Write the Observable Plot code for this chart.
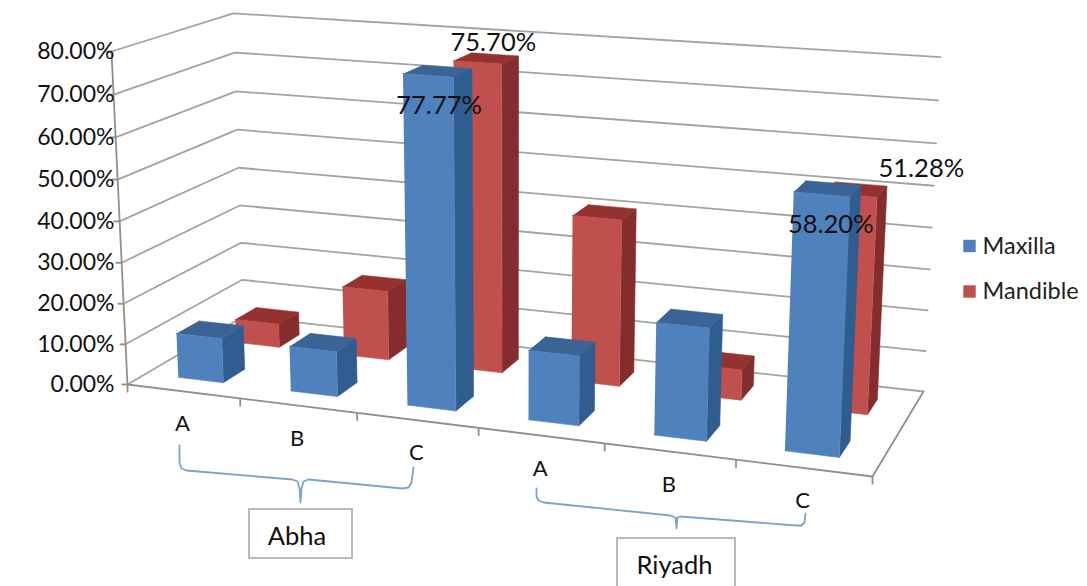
<!DOCTYPE html>
<html>
<head>
<meta charset="utf-8">
<script src="https://cdn.jsdelivr.net/npm/d3@7"></script>
<script src="https://cdn.jsdelivr.net/npm/@observablehq/plot@0.6"></script>
<style>
html,body{margin:0;padding:0;background:#fff;overflow:hidden}
svg{display:block}
</style>
</head>
<body>
<div id="chart" style="position:relative;width:1087px;height:586px"></div>
<script>
// ---- data ----
const categories = ["A", "B", "C", "A", "B", "C"];
const maxilla  = [11, 11, 77.77, 16.5, 26.2, 58.20];
const mandible = [6, 17.5, 75.70, 40.8, 7.4, 51.28];
const valueTicks = [0, 10, 20, 30, 40, 50, 60, 70, 80];
const maxValue = 80;

// ---- 3D camera: floor corners of the plot box on the page, and the top of its left and right walls ----
const floorQuad = [[127,384],[872,476],[923,391],[243,316]]; // FL FR BR BL
const topFrontLeft = [111,51], topBackRightX = 940;
function camera(q){
  const [[x0,y0],[x1,y1],[x2,y2],[x3,y3]] = q;
  const dx1=x1-x2, dx2=x3-x2, sx=x0-x1+x2-x3;
  const dy1=y1-y2, dy2=y3-y2, sy=y0-y1+y2-y3;
  const den=dx1*dy2-dx2*dy1;
  const g=(sx*dy2-dx2*sy)/den, h=(dx1*sy-sx*dy1)/den;
  const a=x1-x0+g*x1, b=x3-x0+h*x3, c=x0;
  const d=y1-y0+g*y1, e=y3-y0+h*y3, f=y0;
  const D=g+h+1;
  const k=(x2*D-x0+topFrontLeft[0]-topBackRightX*D)/(topBackRightX-topFrontLeft[0]);
  const mx=topFrontLeft[0]*(1+k)-x0, my=topFrontLeft[1]*(1+k)-y0;
  return (u,v,w)=>{const z=g*u+h*v+1+k*w; return {x:(a*u+b*v+c+mx*w)/z,y:(d*u+e*v+f+my*w)/z};};
}
const cam=camera(floorQuad);
// u: category position (0..6), v: depth (0..1), val: percent
const project=(u,v,val)=>cam(u/categories.length,v,val/maxValue);

// ---- bar geometry ----
const barSpan=[0.29,0.695];
const rows=[
  {name:"Mandible",values:mandible,depth:[0.65,0.84],front:"#c0504d",side:"#852d2c",top:"#94322f"},
  {name:"Maxilla", values:maxilla, depth:[0.15,0.335],front:"#4f81bd",side:"#2f5d90",top:"#3b6496"}
];
const faces=[];
function face(id,color,corners){corners.forEach(c=>faces.push({id,color,...project(...c)}));}
rows.forEach(r=>r.values.forEach((val,i)=>{
  const u0=i+barSpan[0],u1=i+barSpan[1],[v0,v1]=r.depth,id=r.name+i;
  face(id+"side",r.side,[[u1,v0,0],[u1,v1,0],[u1,v1,val],[u1,v0,val]]);
  face(id+"top",r.top,[[u0,v0,val],[u1,v0,val],[u1,v1,val],[u0,v1,val]]);
  face(id+"front",r.front,[[u0,v0,0],[u1,v0,0],[u1,v0,val],[u0,v0,val]]);
}));

// ---- walls, floor, axis ----
const n=categories.length;
const grid=valueTicks.flatMap(t=>[
  {t,...project(0,0,t)},{t,...project(0,1,t)},{t,...project(n,1,t)}
]);
const floorEdges=[
  {e:"front",...project(0,0,0)},{e:"front",...project(n,0,0)},
  {e:"front",...project(n,1,0)}
];
const vAxis=[project(0,0,0),project(0,0,maxValue)];
const vTicks=valueTicks.map(t=>project(0,0,t));
const xTicks=d3.range(0,n+1).map(u=>project(u,0,0));

// ---- annotations ----
const tickLabels=valueTicks.map(t=>({label:t.toFixed(2)+"%",y:project(0,0,t).y}));
const catLabels=categories.map((c,i)=>{const p=project(i+.5,0,0);return {c,x:p.x-1,y:p.y+33};});
const labelShift={Maxilla:[[10,30],[8,30]],Mandible:[[15,-20],[70,-26]]};
const dataLabels=rows.flatMap(r=>[2,5].map((i,k)=>{
  const p=project(i+.5,r.depth[0],r.values[i]);
  return {text:r.values[i].toFixed(2)+"%",x:p.x+labelShift[r.name][k][0],y:p.y+labelShift[r.name][k][1]};
}));
const legendItems=[{name:"Maxilla",color:"#4f81bd",y:245.5},{name:"Mandible",color:"#c0504d",y:291}];
const braces=[
  [[179,445],[179,462],[181,468],[186,470],[292,479],[297,481],[299,488],[300,502],[301,488],[303,481],[308,479],[402,488],[408,487],[411,482],[413,467]],
  [[536,488],[536,496],[538,500],[543,502],[670,515],[675,517],[676,528],[677,517],[680,516],[796,525],[801,525],[804,522],[805,513]]
].flatMap((pts,k)=>pts.map(([x,y])=>({k,x,y})));
const boxes=[{x1:249,x2:352,y1:509,y2:558,label:"Abha"},{x1:617,x2:735,y1:538,y2:600,label:"Riyadh"}];
const textFont="Lato";

const plot=Plot.plot({
  width:1087,height:586,margin:0,
  x:{domain:[0,1087],range:[0,1087],axis:null},
  y:{domain:[0,586],range:[0,586],axis:null},
  color:{type:"identity"},
  style:{background:"#fff",fontFamily:textFont},
  marks:[
    Plot.line(grid,{x:"x",y:"y",z:"t",stroke:"#a3a3a3",strokeWidth:1.8}),
    Plot.line(floorEdges,{x:"x",y:"y",z:"e",stroke:"#8f8f8f",strokeWidth:1.8}),
    Plot.line(vAxis,{x:"x",y:"y",stroke:"#8f8f8f",strokeWidth:1.8}),
    Plot.link(vTicks,{x1:d=>d.x-6,x2:"x",y1:"y",y2:"y",stroke:"#8f8f8f",strokeWidth:1.8}),
    Plot.link(xTicks,{x1:"x",x2:"x",y1:"y",y2:d=>d.y+8,stroke:"#8f8f8f",strokeWidth:1.8}),
    Plot.line(faces,{x:"x",y:"y",z:"id",fill:"color",stroke:"color",strokeWidth:0.6}),
    Plot.text(tickLabels,{x:()=>114,y:"y",text:"label",textAnchor:"end",fontSize:23,fill:"#111"}),
    Plot.text(catLabels,{x:"x",y:"y",text:"c",fontSize:22,fill:"#111"}),
    Plot.text(dataLabels,{x:"x",y:"y",text:"text",fontSize:25.5,fill:"#111"}),
    Plot.line(braces,{x:"x",y:"y",z:"k",stroke:"#7ba3cc",strokeWidth:1.8}),
    Plot.rect(boxes,{x1:"x1",x2:"x2",y1:"y1",y2:"y2",fill:"#fff",stroke:"#b9b9b9",strokeWidth:2}),
    Plot.text(boxes,{x:d=>(d.x1+d.x2)/2-(d.label==="Riyadh"?2:4),y:d=>d.label==="Riyadh"?565:536,text:"label",fontSize:25.5,fill:"#111"}),
    Plot.dot(legendItems,{x:()=>969,y:"y",symbol:"square",r:7,fill:"color"}),
    Plot.text(legendItems,{x:()=>982,y:"y",text:"name",textAnchor:"start",fontSize:23.5,fill:"#222"})
  ]
});
document.getElementById("chart").append(plot);
</script>
</body>
</html>
